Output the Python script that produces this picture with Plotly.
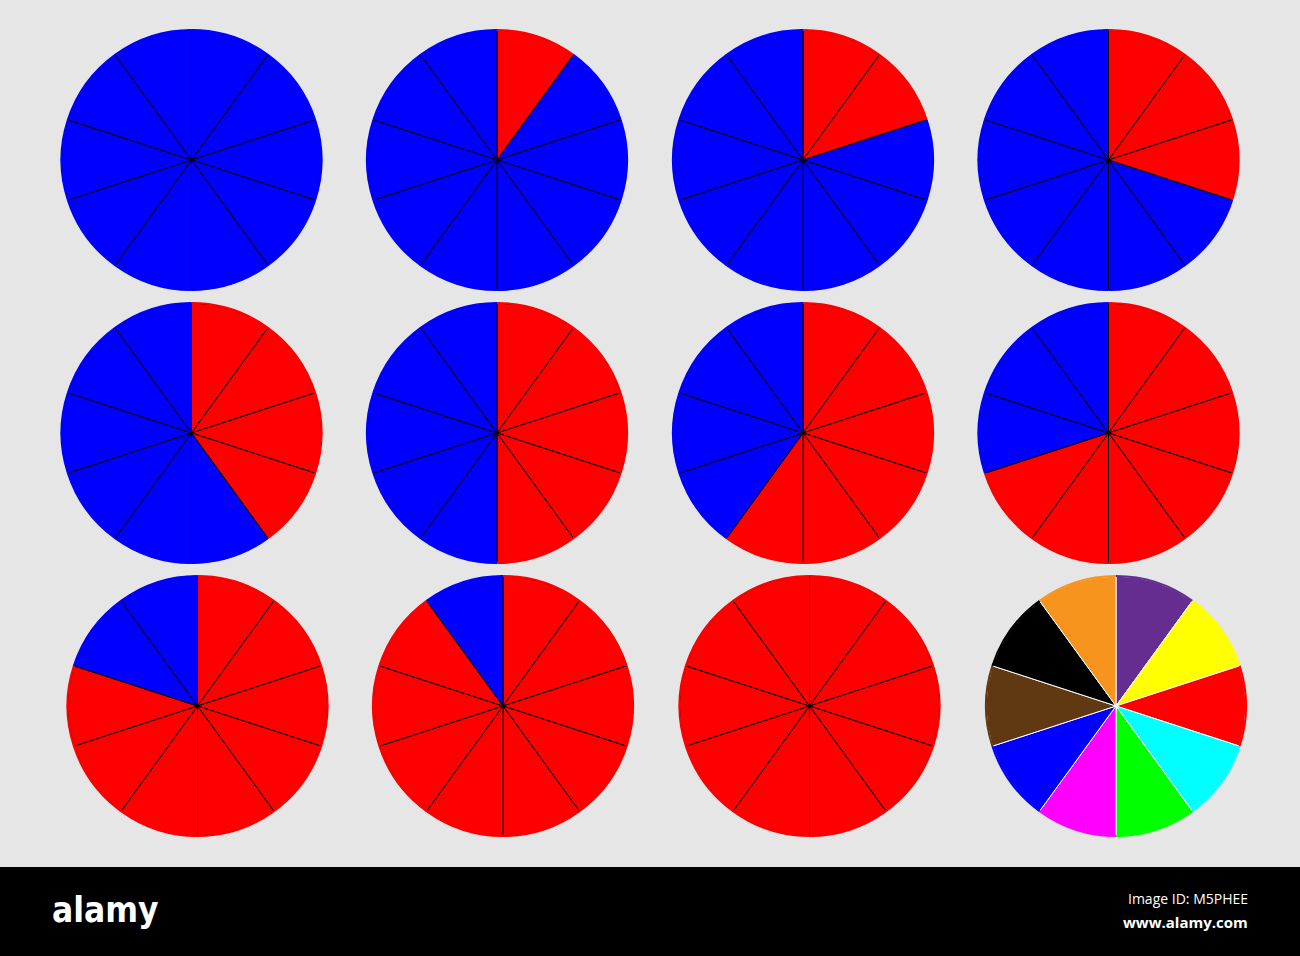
import plotly.graph_objects as go

# ten equal slices per pie, counted from 12 o'clock clockwise
n_slices = 10
slice_values = [1] * n_slices
red_counts = [0, 1, 2, 3, 4, 5, 6, 7, 8, 9, 10]
rainbow_colors = ["#662d91", "#ffff00", "#ff0000", "#00ffff", "#00ff00",
                  "#ff00ff", "#0000ff", "#603913", "#000000", "#f7941d"]

W, H = 1300, 956
R = 130
# pie centres in pixels (row by row)
centres = [(191.5, 160), (497, 160), (803, 160), (1108.5, 160),
           (191.5, 433), (497, 433), (803, 433), (1108.5, 433),
           (197.5, 706), (503, 706), (809.5, 706), (1116, 706)]


def domain(cx, cy, r):
    return dict(x=[(cx - r) / W, (cx + r) / W],
                y=[(H - cy - r) / H, (H - cy + r) / H])


fig = go.Figure()
for i, (cx, cy) in enumerate(centres):
    if i < len(red_counts):
        k = red_counts[i]
        colors = ["#ff0000"] * k + ["#0000ff"] * (n_slices - k)
        line = dict(color="#000000", width=1)
    else:
        colors = rainbow_colors
        line = dict(color="#ffffff", width=1)
    fig.add_trace(go.Pie(
        values=slice_values,
        labels=[str(j) for j in range(n_slices)],
        marker=dict(colors=colors, line=line),
        sort=False, direction="clockwise", rotation=0,
        textinfo="none", hoverinfo="skip",
        domain=domain(cx, cy, R), showlegend=False,
    ))
    # thin rim in the slice colours to hide the outer outline
    fig.add_trace(go.Pie(
        values=slice_values,
        labels=[str(j) for j in range(n_slices)],
        marker=dict(colors=colors, line=dict(width=0)),
        hole=(R - 1) / (R + 1),
        sort=False, direction="clockwise", rotation=0,
        textinfo="none", hoverinfo="skip",
        domain=domain(cx, cy, R + 1), showlegend=False,
    ))

# black footer strip
fig.add_shape(type="rect", xref="paper", yref="paper",
              x0=0, x1=1, y0=0, y1=(H - 867) / H,
              fillcolor="#000000", line=dict(width=0), layer="above")
fig.add_annotation(text="<b>alamy</b>", xref="paper", yref="paper",
                   x=50 / W, y=(H - 910) / H, xanchor="left", yanchor="middle",
                   showarrow=False,
                   font=dict(family="DejaVu Sans Condensed, sans-serif",
                             size=35, color="#ffffff"))
fig.add_annotation(text="Image ID: M5PHEE", xref="paper", yref="paper",
                   x=1250 / W, y=(H - 898) / H, xanchor="right", yanchor="middle",
                   showarrow=False,
                   font=dict(family="Open Sans", size=14, color="#ffffff"))
fig.add_annotation(text="<b>www.alamy.com</b>", xref="paper", yref="paper",
                   x=1250 / W, y=(H - 922) / H, xanchor="right", yanchor="middle",
                   showarrow=False,
                   font=dict(family="Open Sans", size=15, color="#ffffff"))

fig.update_layout(
    width=W, height=H,
    margin=dict(l=0, r=0, t=0, b=0),
    paper_bgcolor="#e6e6e6",
    plot_bgcolor="#e6e6e6",
)

fig.write_html("out.html", config={"displayModeBar": False},
               post_script="document.body.style.margin='0';"
                           "document.body.style.overflow='hidden';")
